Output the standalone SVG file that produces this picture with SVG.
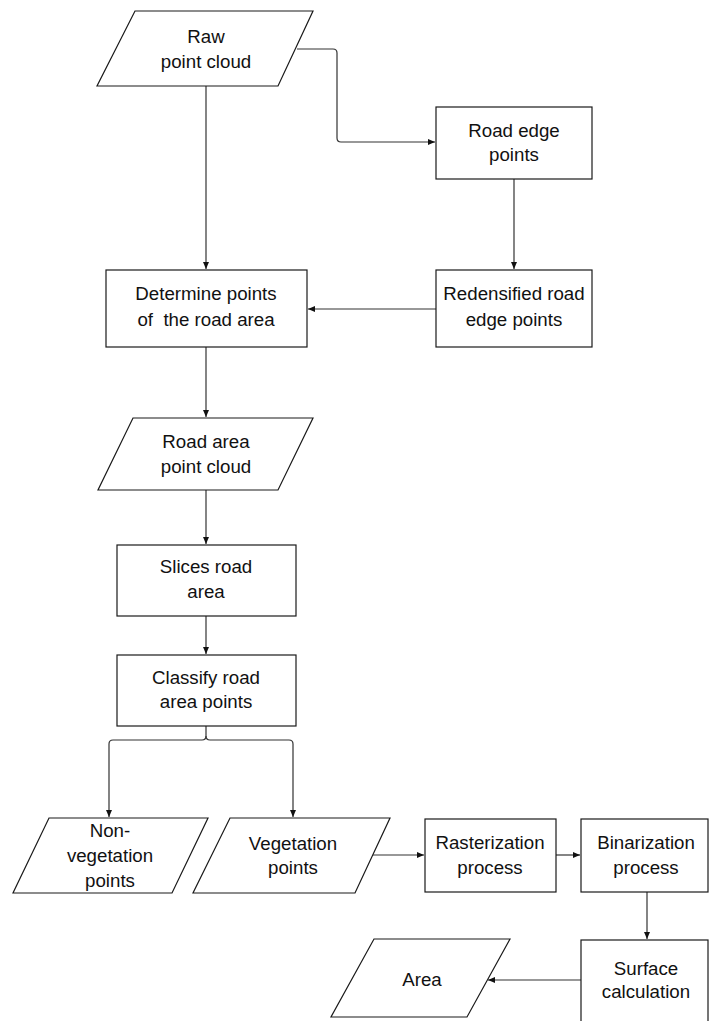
<svg xmlns="http://www.w3.org/2000/svg" width="709" height="1021" viewBox="0 0 709 1021">
<style>
.n{fill:#fff;stroke:#1a1a1a;stroke-width:1.2}
.t{font-family:"Liberation Sans",Arial,sans-serif;font-size:18.7px;fill:#111;text-anchor:middle}
.c{fill:none;stroke:#333;stroke-width:1.2}
</style>
<defs>
<marker id="a" markerUnits="userSpaceOnUse" markerWidth="8" markerHeight="8" refX="7" refY="4" orient="auto">
<path d="M0,1 L7,4 L0,7 Z" fill="#111"/>
</marker>
</defs>
<rect width="709" height="1021" fill="#fff"/>
<g id="connectors">
<path class="c" d="M297,49 L333,49 Q337,49 337,53 L337,138 Q337,142 341,142 L435,142" marker-end="url(#a)"/>
<path class="c" d="M206,86 L206,269" marker-end="url(#a)"/>
<path class="c" d="M514,179 L514,269" marker-end="url(#a)"/>
<path class="c" d="M436,309 L308,309" marker-end="url(#a)"/>
<path class="c" d="M206,347 L206,417" marker-end="url(#a)"/>
<path class="c" d="M206,490 L206,544" marker-end="url(#a)"/>
<path class="c" d="M206,616 L206,654" marker-end="url(#a)"/>
<path class="c" d="M206,726 L206,736 Q206,740 202,740 L113,740 Q109,740 109,744 L109,817" marker-end="url(#a)"/>
<path class="c" d="M206,736 Q206,740 210,740 L289,740 Q293,740 293,744 L293,817" marker-end="url(#a)"/>
<path class="c" d="M373,855 L424,855" marker-end="url(#a)"/>
<path class="c" d="M556,855 L580,855" marker-end="url(#a)"/>
<path class="c" d="M647,892 L647,939" marker-end="url(#a)"/>
<path class="c" d="M581,980 L488,980" marker-end="url(#a)"/>
</g>
<g id="raw">
<polygon class="n" points="135,11 313,11 278,86 97,86"/>
<text class="t" x="206" y="43">Raw</text>
<text class="t" x="206" y="68">point cloud</text>
</g>
<g id="roadedge">
<rect class="n" x="436" y="107" width="156" height="72"/>
<text class="t" x="514" y="137">Road edge</text>
<text class="t" x="514" y="161">points</text>
</g>
<g id="determine">
<rect class="n" x="106" y="270" width="201" height="77"/>
<text class="t" x="206" y="300">Determine points</text>
<text class="t" x="206" y="326" xml:space="preserve">of  the road area</text>
</g>
<g id="redensified">
<rect class="n" x="436" y="270" width="156" height="77"/>
<text class="t" x="514" y="300">Redensified road</text>
<text class="t" x="514" y="326">edge points</text>
</g>
<g id="roadarea">
<polygon class="n" points="133,418 313,418 278,490 98,490"/>
<text class="t" x="206" y="448">Road area</text>
<text class="t" x="206" y="473">point cloud</text>
</g>
<g id="slices">
<rect class="n" x="117" y="545" width="179" height="71"/>
<text class="t" x="206" y="573">Slices road</text>
<text class="t" x="206" y="598">area</text>
</g>
<g id="classify">
<rect class="n" x="117" y="655" width="179" height="71"/>
<text class="t" x="206" y="684">Classify road</text>
<text class="t" x="206" y="708">area points</text>
</g>
<g id="nonveg">
<polygon class="n" points="49,818 208,818 172,893 13,893"/>
<text class="t" x="110" y="837">Non-</text>
<text class="t" x="110" y="862">vegetation</text>
<text class="t" x="110" y="887">points</text>
</g>
<g id="veg">
<polygon class="n" points="230,818 390,818 355,893 193,893"/>
<text class="t" x="293" y="850">Vegetation</text>
<text class="t" x="293" y="874">points</text>
</g>
<g id="raster">
<rect class="n" x="425" y="819" width="131" height="73"/>
<text class="t" x="490" y="849">Rasterization</text>
<text class="t" x="490" y="874">process</text>
</g>
<g id="binar">
<rect class="n" x="581" y="819" width="127" height="73"/>
<text class="t" x="646" y="849">Binarization</text>
<text class="t" x="646" y="874">process</text>
</g>
<g id="surface">
<rect class="n" x="581" y="940" width="127" height="85"/>
<text class="t" x="646" y="975">Surface</text>
<text class="t" x="646" y="998">calculation</text>
</g>
<g id="area">
<polygon class="n" points="374,939 510,939 467,1017 331,1017"/>
<text class="t" x="422" y="986">Area</text>
</g>
</svg>
